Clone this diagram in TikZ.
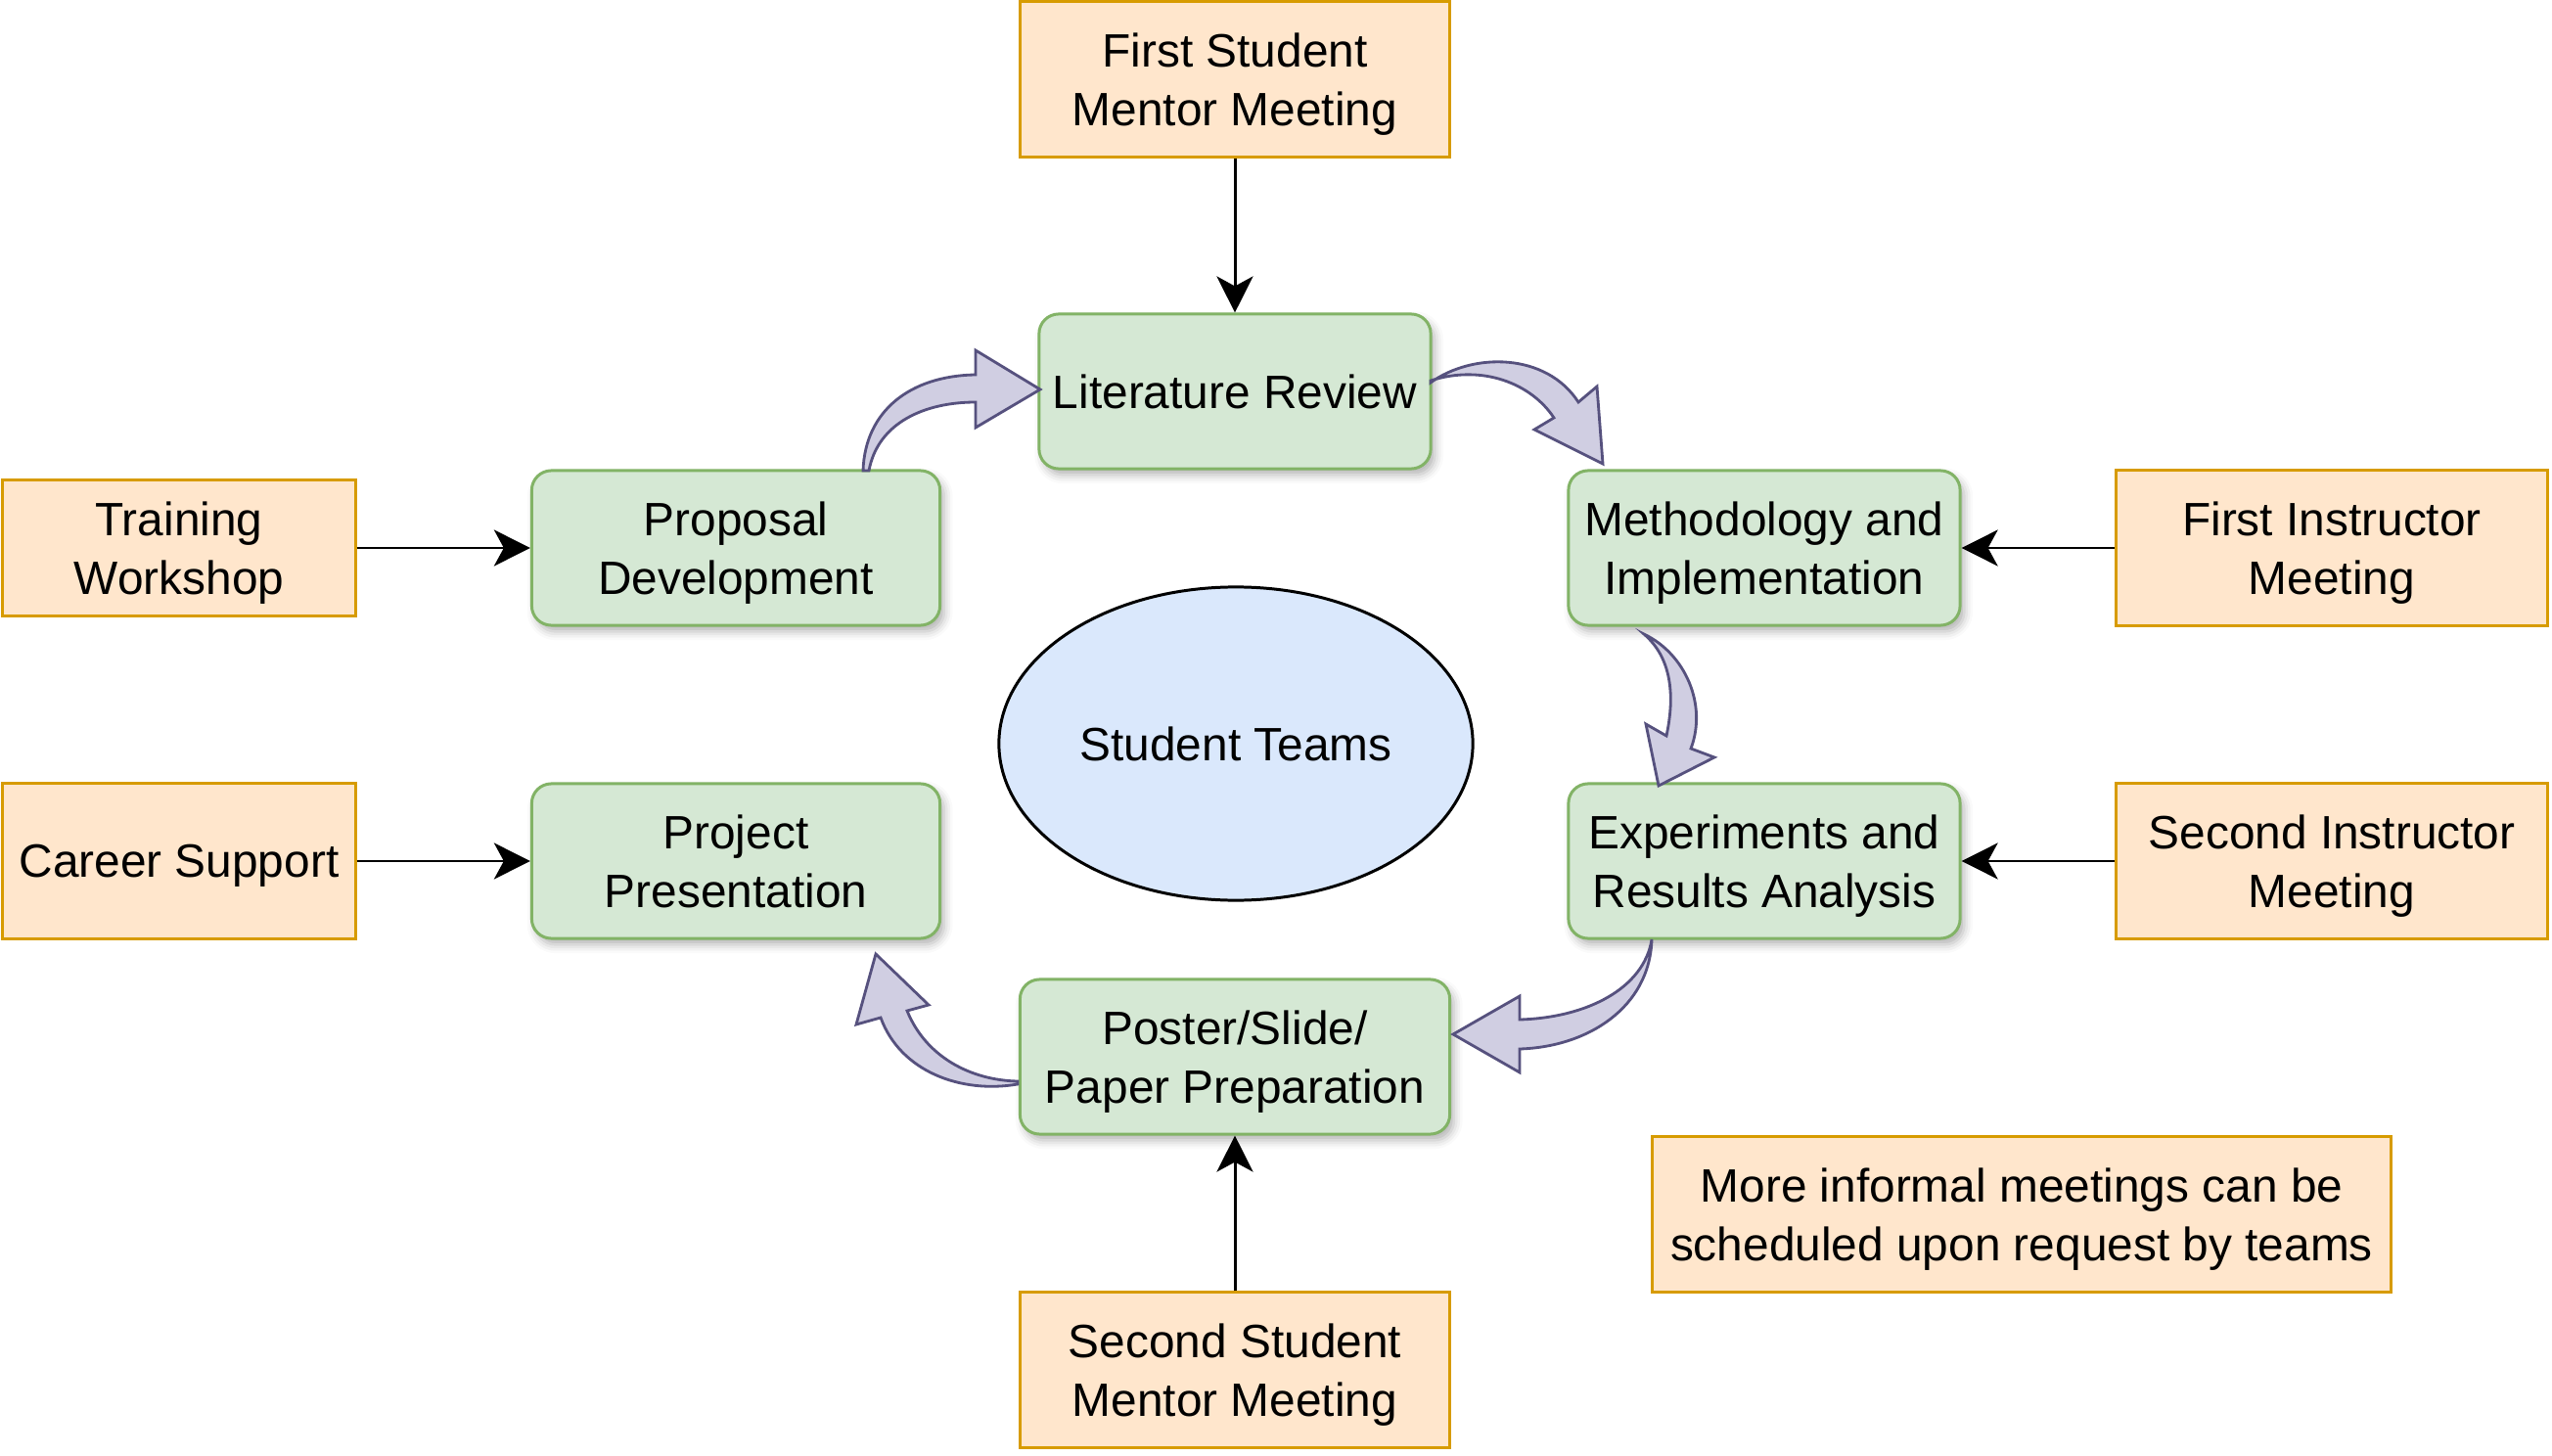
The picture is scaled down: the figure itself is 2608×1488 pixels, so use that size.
\documentclass[tikz,border=0pt]{standalone}
\usepackage{fontspec}
\setmainfont{Liberation Sans}
\usetikzlibrary{graphs}
\usetikzlibrary{shapes.geometric}
\usetikzlibrary{arrows.meta}
\usetikzlibrary{shadows.blur}

\definecolor{stagefill}{HTML}{D5E8D4}
\definecolor{stageline}{HTML}{82B366}
\definecolor{meetfill}{HTML}{FFE6CC}
\definecolor{meetline}{HTML}{D79B00}
\definecolor{teamfill}{HTML}{DAE8FC}
\definecolor{flowfill}{HTML}{D0CEE2}
\definecolor{flowline}{HTML}{56517E}

\tikzstyle{stage} = [draw=stageline, fill=stagefill, line width=0.85pt, rounded corners=0.2cm, minimum width=4cm, minimum height=1.58cm, text centered, align=center, text depth=0pt, font=\fontsize{13.6}{17}\selectfont, blur shadow={shadow xshift=1.2pt, shadow yshift=-1.8pt, shadow blur radius=2.5pt, shadow opacity=30}]
\tikzstyle{meeting} = [draw=meetline, fill=meetfill, line width=0.85pt, minimum width=4.39cm, minimum height=1.58cm, text centered, align=center, text depth=0pt, font=\fontsize{13.6}{17}\selectfont]
\tikzstyle{flowarrow} = [draw=flowline, fill=flowfill, line width=0.8pt, line join=miter]

\begin{document}
\begin{tikzpicture}[x=0.01cm, y=-0.01cm, >={Stealth[length=0.37cm, width=0.37cm, inset=0.1cm]}]
    \useasboundingbox (0,0) rectangle (2608,1488);

    % stages of the project
    \node[stage] (lit) at (1262,400) {Literature Review};
    \node[stage, minimum width=4.17cm] (prop) at (752,560) {Proposal\\Development};
    \node[stage] (meth) at (1803,560) {Methodology and\\Implementation};
    \node[stage] (exp) at (1803,880) {Experiments and\\Results Analysis};
    \node[stage, minimum width=4.39cm] (post) at (1262,1080) {Poster/Slide/\\Paper Preparation};
    \node[stage, minimum width=4.17cm] (pres) at (752,880) {Project\\Presentation};

    \node[ellipse, draw, fill=teamfill, line width=0.85pt, minimum width=4.8cm, minimum height=3.2cm, text depth=0pt, font=\fontsize{13.6}{17}\selectfont] (team) at (1263,760) {Student Teams};

    % meetings and support
    \node[meeting] (fsm) at (1262,81) {First Student\\Mentor Meeting};
    \node[meeting] (ssm) at (1262,1400) {Second Student\\Mentor Meeting};
    \node[meeting, minimum width=3.6cm, minimum height=1.38cm] (train) at (183,560) {Training\\Workshop};
    \node[meeting, minimum width=3.6cm] (career) at (183,880) {Career Support};
    \node[meeting, minimum width=4.41cm] (fim) at (2383,560) {First Instructor\\Meeting};
    \node[meeting, minimum width=4.41cm] (sim) at (2383,880) {Second Instructor\\Meeting};
    \node[meeting, minimum width=7.55cm] (note) at (2066,1241) {More informal meetings can be\\scheduled upon request by teams};

    \graph[edges={line width=0.85pt}] {
        (fsm) -> (lit);
        (ssm) -> (post);
        (train) -> (prop);
        (career) -> (pres);
        (fim) -> (meth);
        (sim) -> (exp);
    };

    % curved block arrows round the cycle
    \draw[flowarrow] (882,481) .. controls (884,420) and (930,384) .. (997,383) -- (997,358) -- (1063,398) -- (997,437) -- (997,411) .. controls (945,411) and (897,432) .. (888,481) -- cycle;
    \draw[flowarrow] (1462,391) .. controls (1505,360) and (1580,360) .. (1613,411) -- (1632,395) -- (1638,474) -- (1568,439) -- (1588,427) .. controls (1565,392) and (1515,372) .. (1462,389) -- cycle;
    \draw[flowarrow] (1680,648) .. controls (1722,668) and (1745,720) .. (1728,765) -- (1752,774) -- (1695,803) -- (1682,740) -- (1703,752) .. controls (1712,710) and (1708,672) .. (1680,648) -- cycle;
    \draw[flowarrow] (1688,960) .. controls (1686,1030) and (1622,1070) .. (1553,1072) -- (1553,1096) -- (1485,1057) -- (1553,1018) -- (1553,1042) .. controls (1622,1040) and (1680,1010) .. (1688,960) -- cycle;
    \draw[flowarrow] (1040,1108) .. controls (982,1118) and (920,1095) .. (900,1040) -- (875,1047) -- (895,975) -- (949,1027) -- (927,1033) .. controls (946,1080) and (992,1104) .. (1040,1105) -- cycle;
\end{tikzpicture}
\end{document}
